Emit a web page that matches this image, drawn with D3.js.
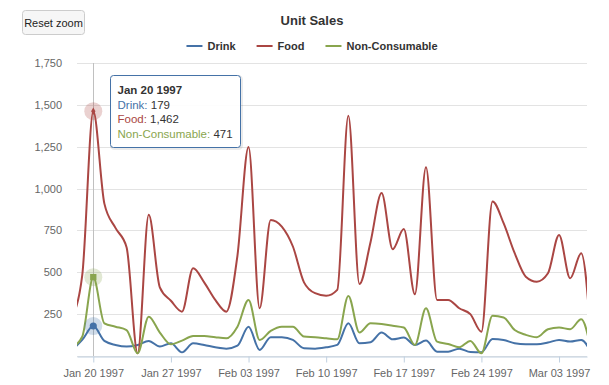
<!DOCTYPE html>
<html>
<head>
<meta charset="utf-8">
<script src="https://cdn.jsdelivr.net/npm/d3@7"></script>
<style>
  body { margin: 0; background: #fff; }
  #my_dataviz { width: 609px; height: 385px; }
  text { font-family: "Liberation Sans", Arial, Helvetica, sans-serif; }
</style>
</head>
<body>
<div id="my_dataviz"></div>
<script>
// Data (daily unit sales, 1997)
const days = [
  "1997-01-18", "1997-01-19", "1997-01-20", "1997-01-21", "1997-01-22", "1997-01-23",
  "1997-01-24", "1997-01-25", "1997-01-26", "1997-01-27", "1997-01-28", "1997-01-29",
  "1997-01-30", "1997-01-31", "1997-02-01", "1997-02-02", "1997-02-03", "1997-02-04",
  "1997-02-05", "1997-02-06", "1997-02-07", "1997-02-08", "1997-02-09", "1997-02-10",
  "1997-02-11", "1997-02-12", "1997-02-13", "1997-02-14", "1997-02-15", "1997-02-16",
  "1997-02-17", "1997-02-18", "1997-02-19", "1997-02-20", "1997-02-21", "1997-02-22",
  "1997-02-23", "1997-02-24", "1997-02-25", "1997-02-26", "1997-02-27", "1997-02-28",
  "1997-03-01", "1997-03-02", "1997-03-03", "1997-03-04", "1997-03-05", "1997-03-06"
];

const drink = [
  30, 96, 179, 90, 66, 56, 66, 90, 56, 76, 22, 76,
  66, 52, 44, 62, 175, 36, 112, 112, 96, 46, 44, 52,
  66, 195, 76, 82, 140, 100, 110, 66, 92, 26, 26, 44,
  24, 22, 102, 96, 76, 70, 70, 80, 96, 86, 96, 4
];

const food = [
  220, 480, 1462, 910, 765, 650, 16, 843, 410, 330, 265, 524,
  440, 335, 265, 600, 1248, 285, 813, 773, 654, 440, 375, 360,
  395, 1435, 430, 680, 973, 638, 758, 369, 1128, 335, 335, 285,
  250, 145, 923, 793, 614, 474, 444, 494, 723, 464, 614, 0
];

const nonConsumable = [
  50, 115, 471, 195, 175, 155, 16, 235, 140, 70, 92, 120,
  120, 112, 106, 175, 335, 96, 150, 175, 175, 116, 112, 106,
  100, 359, 140, 195, 191, 181, 170, 66, 285, 86, 72, 52,
  90, 16, 240, 230, 155, 126, 112, 160, 170, 160, 219, 0
];

const seriesNames = ["Drink", "Food", "Non-Consumable"];
const seriesColors = ["#4572A7", "#AA4643", "#89A54E"];
const seriesSymbols = [d3.symbolCircle, d3.symbolDiamond, d3.symbolSquare];
const yTicks = [250, 500, 750, 1000, 1250, 1500, 1750];

// zoomed window shown on the x axis and the hovered day
const viewStart = Date.UTC(1997, 0, 18, 12, 45);
const viewEnd = Date.UTC(1997, 2, 5, 12, 30);
const hoverDay = "1997-01-20";

const width = 609;
const height = 385;
const margin = { top: 63, right: 22, bottom: 29, left: 77 };

const parseDay = d3.utcParse("%Y-%m-%d");
const dates = days.map(parseDay);

const series = seriesNames.map((name, i) => ({
  name: name,
  color: seriesColors[i],
  symbol: seriesSymbols[i],
  values: [drink, food, nonConsumable][i].map((v, j) => ({ date: dates[j], value: v }))
}));

const svg = d3.select("#my_dataviz")
  .append("svg")
  .attr("width", width)
  .attr("height", height);

const x = d3.scaleUtc()
  .domain([viewStart, viewEnd])
  .range([margin.left, width - margin.right]);

const y = d3.scaleLinear()
  .domain([0, 1750])
  .range([height - margin.bottom, margin.top]);

// Grid lines
svg.append("g")
  .selectAll("line")
  .data([0].concat(yTicks))
  .join("line")
  .attr("x1", margin.left)
  .attr("x2", width - margin.right)
  .attr("y1", d => Math.round(y(d)) + 0.5)
  .attr("y2", d => Math.round(y(d)) + 0.5)
  .attr("stroke", "#e3e3e3")
  .attr("stroke-width", 1);

// Y labels (no axis line)
svg.append("g")
  .selectAll("text")
  .data(yTicks)
  .join("text")
  .attr("x", margin.left - 15)
  .attr("y", d => y(d) + 4)
  .attr("text-anchor", "end")
  .style("font-size", "11px")
  .style("fill", "#666")
  .text(d => d3.format(",")(d));

// X axis
const xAxis = svg.append("g")
  .attr("transform", `translate(0,${Math.round(y(0)) + 0.5})`)
  .call(d3.axisBottom(x)
    .ticks(d3.utcMonday.every(1))
    .tickFormat(d3.utcFormat("%b %d %Y"))
    .tickSize(6)
    .tickPadding(7)
    .tickSizeOuter(0));

xAxis.select(".domain").attr("stroke", "#C0D0E0");
xAxis.selectAll(".tick line").attr("stroke", "#C0D0E0");
xAxis.selectAll(".tick text")
  .style("font-size", "11px")
  .style("font-family", "'Liberation Sans', Arial, Helvetica, sans-serif")
  .attr("fill", "#666");

// Crosshair on hovered day
const hoverDate = parseDay(hoverDay);
svg.append("line")
  .attr("x1", Math.round(x(hoverDate)) + 0.5)
  .attr("x2", Math.round(x(hoverDate)) + 0.5)
  .attr("y1", margin.top)
  .attr("y2", y(0))
  .attr("stroke", "#C0C0C0")
  .attr("stroke-width", 1);

// Clip the lines to the plot area
svg.append("clipPath")
  .attr("id", "plot-clip")
  .append("rect")
  .attr("x", margin.left)
  .attr("y", margin.top - 5)
  .attr("width", width - margin.left - margin.right)
  .attr("height", height - margin.top - margin.bottom + 5);

const line = d3.line()
  .x(d => x(d.date))
  .y(d => y(d.value))
  .curve(d3.curveMonotoneX);

svg.append("g")
  .attr("clip-path", "url(#plot-clip)")
  .selectAll("path")
  .data(series)
  .join("path")
  .attr("d", d => line(d.values))
  .attr("fill", "none")
  .attr("stroke", d => d.color)
  .attr("stroke-width", 2)
  .attr("stroke-linejoin", "round");

// Hover markers with halo
const hoverIndex = days.indexOf(hoverDay);
const markers = svg.append("g");
series.forEach(s => {
  const d = s.values[hoverIndex];
  markers.append("circle")
    .attr("cx", x(d.date))
    .attr("cy", y(d.value))
    .attr("r", 9)
    .attr("fill", s.color)
    .attr("fill-opacity", 0.25);
});
series.forEach(s => {
  const d = s.values[hoverIndex];
  const size = s.symbol === d3.symbolDiamond ? 16 : 40;
  markers.append("path")
    .attr("transform", `translate(${x(d.date)},${y(d.value)})`)
    .attr("d", d3.symbol().type(s.symbol).size(size)())
    .attr("fill", s.color);
});

// Title
svg.append("text")
  .attr("x", 312)
  .attr("y", 25)
  .attr("text-anchor", "middle")
  .style("font-size", "13px")
  .style("font-weight", "bold")
  .style("fill", "#333")
  .text("Unit Sales");

// Legend, centered
const legend = svg.append("g");
let lx = 0;
series.forEach((s, i) => {
  const item = legend.append("g").attr("transform", `translate(${lx},0)`);
  item.append("line")
    .attr("x1", 0).attr("x2", 16)
    .attr("y1", 0).attr("y2", 0)
    .attr("stroke", s.color)
    .attr("stroke-width", 2);
  const t = item.append("text")
    .attr("x", 21)
    .attr("y", 4)
    .style("font-size", "11px")
    .style("font-weight", "bold")
    .style("fill", "#333")
    .text(s.name);
  lx += 21 + t.node().getComputedTextLength() + 21;
});
const legendWidth = lx - 21;
legend.attr("transform", `translate(${312 - legendWidth / 2},46)`);

// Reset zoom button
const button = svg.append("g").attr("transform", "translate(22.5,10.5)");
button.append("rect")
  .attr("width", 62)
  .attr("height", 24)
  .attr("rx", 3)
  .attr("fill", "#f6f6f6")
  .attr("stroke", "#cccccc");
button.append("text")
  .attr("x", 31)
  .attr("y", 16)
  .attr("text-anchor", "middle")
  .style("font-size", "11px")
  .style("fill", "#222")
  .text("Reset zoom");

// Tooltip for the hovered day
const tip = svg.append("g").attr("transform", "translate(110.5,75.5)");
tip.append("rect")
  .attr("x", 1).attr("y", 1)
  .attr("width", 130).attr("height", 72)
  .attr("rx", 3)
  .attr("fill", "none")
  .attr("stroke", "#000")
  .attr("stroke-opacity", 0.08)
  .attr("stroke-width", 3);
tip.append("rect")
  .attr("width", 130).attr("height", 72)
  .attr("rx", 3)
  .attr("fill", "rgba(255,255,255,0.9)")
  .attr("stroke", "#4572A7")
  .attr("stroke-width", 1);
tip.append("text")
  .attr("x", 7)
  .attr("y", 18)
  .style("font-size", "11.5px")
  .style("font-weight", "bold")
  .style("fill", "#333")
  .text(d3.utcFormat("%b %d %Y")(hoverDate));
series.forEach((s, i) => {
  const row = tip.append("text")
    .attr("x", 7)
    .attr("y", 33 + i * 14.5)
    .style("font-size", "11.5px");
  row.append("tspan").style("fill", s.color).text(s.name + ": ");
  row.append("tspan").style("fill", "#333").text(d3.format(",")(s.values[hoverIndex].value));
});
</script>
</body>
</html>
